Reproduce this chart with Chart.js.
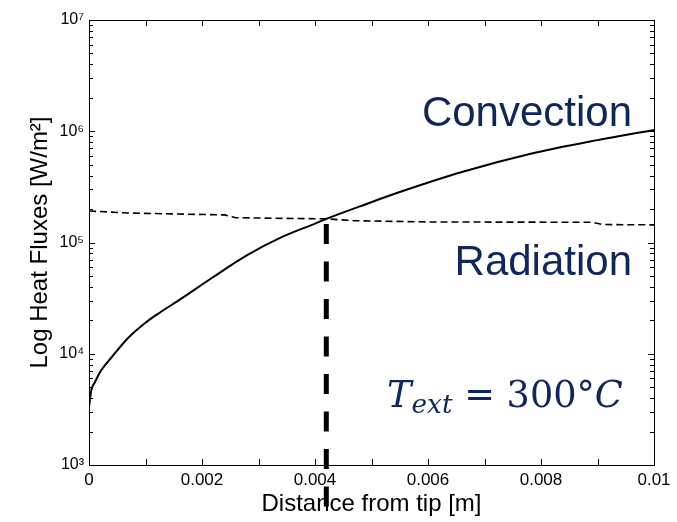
<!DOCTYPE html>
<html><head><meta charset="utf-8">
<script src="https://cdn.jsdelivr.net/npm/chart.js@4/dist/chart.umd.min.js"></script>
<style>html,body{margin:0;padding:0;background:#fff}</style>
</head><body>
<canvas id="c" width="677" height="522" style="display:block;width:677px;height:522px"></canvas>
<script>
// ---- data ----
const convectionX    = [0, 0.00004, 0.0001, 0.0002, 0.0004, 0.0007, 0.001, 0.0012, 0.0016, 0.0022, 0.0028, 0.0034, 0.004, 0.0042, 0.0049, 0.0055, 0.0066, 0.0078, 0.009, 0.01];
const convectionFlux = [3300, 4700, 5500, 6900, 9300, 14000, 19000, 22500, 30500, 49000, 77000, 111000, 148000, 163000, 221000, 284000, 430000, 624000, 832000, 1028000];
const radiationX     = [0, 0.0007, 0.0024, 0.0026, 0.0042, 0.0047, 0.006, 0.0089, 0.0091, 0.01];
const radiationFlux  = [192000, 184000, 177000, 167000, 163000, 157000, 153000, 152000, 145000, 144000];

const xTickValues = [0, 0.002, 0.004, 0.006, 0.008, 0.01];
const xTickLabels = ['0', '0.002', '0.004', '0.006', '0.008', '0.01'];
const xMinorTickValues = [0.001, 0.003, 0.005, 0.007, 0.009];
const yTickValues = [1e3, 1e4, 1e5, 1e6, 1e7];
const yTickLabels = ['10\u00B3', '10\u2074', '10\u2075', '10\u2076', '10\u2077'];

const crossingX = 0.0042;
const crossingFlux = 163000;

const labelConvection = 'Convection';
const labelRadiation = 'Radiation';
const annotationColor = '#0f2858';

const toPoints = (xs, ys) => xs.map((x, i) => ({x: x, y: ys[i]}));

const decorPlugin = {
  id: 'decor',
  afterDraw(chart) {
    const ctx = chart.ctx;
    const xs = chart.scales.x, ys = chart.scales.y;
    const a = chart.chartArea;
    ctx.save();
    // frame
    ctx.strokeStyle = '#000';
    ctx.lineWidth = 1;
    ctx.strokeRect(Math.round(a.left) + 0.5, Math.round(a.top) + 0.5, Math.round(a.right - a.left), Math.round(a.bottom - a.top));
    // x ticks (inward, top and bottom)
    ctx.beginPath();
    xTickValues.concat(xMinorTickValues).forEach(v => {
      const px = Math.round(xs.getPixelForValue(v)) + 0.5;
      ctx.moveTo(px, a.bottom); ctx.lineTo(px, a.bottom - 6);
      ctx.moveTo(px, a.top); ctx.lineTo(px, a.top + 6);
    });
    // y ticks: majors and minors, left and right
    yTickValues.forEach((d, i) => {
      const py = Math.round(ys.getPixelForValue(d)) + 0.5;
      ctx.moveTo(a.left, py); ctx.lineTo(a.left + 6, py);
      ctx.moveTo(a.right, py); ctx.lineTo(a.right - 6, py);
      if (i < yTickValues.length - 1) {
        for (let k = 2; k <= 9; k++) {
          const my = Math.round(ys.getPixelForValue(d * k)) + 0.5;
          ctx.moveTo(a.left, my); ctx.lineTo(a.left + 4, my);
          ctx.moveTo(a.right, my); ctx.lineTo(a.right - 4, my);
        }
      }
    });
    ctx.stroke();

    // thick dashed marker at the crossing point
    const cx = xs.getPixelForValue(crossingX);
    const cy = ys.getPixelForValue(crossingFlux);
    ctx.beginPath();
    ctx.lineWidth = 5;
    ctx.setLineDash([20, 17.5]);
    ctx.moveTo(cx, cy + 5);
    ctx.lineTo(cx, chart.height);
    ctx.stroke();
    ctx.setLineDash([]);

    // text annotations
    ctx.fillStyle = annotationColor;
    ctx.textAlign = 'right';
    ctx.textBaseline = 'alphabetic';
    ctx.font = '42px "Liberation Sans", Arial, sans-serif';
    ctx.fillText(labelConvection, 632, 126);
    ctx.fillText(labelRadiation, 632, 275);

    // T_ext = 300°C (math style)
    const parts = [
      {t: 'T', st: 'italic', k: 1, dy: 0},
      {t: 'ext', st: 'italic', k: 0.72, dy: 0.16},
      {t: ' = 300\u00B0', st: 'normal', k: 1, dy: 0},
      {t: 'C', st: 'italic', k: 1, dy: 0}
    ];
    const fam = '"DejaVu Serif", "Liberation Serif", serif';
    const measure = s => parts.reduce((w, p) => { ctx.font = `${p.st} ${s * p.k}px ${fam}`; return w + ctx.measureText(p.t).width; }, 0);
    const targetW = 236;
    const size = 40 * targetW / measure(40);
    ctx.textAlign = 'left';
    let x = 387;
    const base = 407;
    parts.forEach(p => {
      ctx.font = `${p.st} ${size * p.k}px ${fam}`;
      ctx.fillText(p.t, x, base + p.dy * size);
      x += ctx.measureText(p.t).width;
    });
    ctx.restore();
  }
};

new Chart(document.getElementById('c'), {
  type: 'line',
  data: {
    datasets: [
      {
        label: labelConvection,
        data: toPoints(convectionX, convectionFlux),
        borderColor: '#000', borderWidth: 2, pointRadius: 0,
        cubicInterpolationMode: 'monotone', fill: false
      },
      {
        label: labelRadiation,
        data: toPoints(radiationX, radiationFlux),
        borderColor: '#000', borderWidth: 1.6, borderDash: [7, 4], pointRadius: 0,
        tension: 0, fill: false
      }
    ]
  },
  options: {
    responsive: false,
    animation: false,
    devicePixelRatio: 1,
    layout: {padding: {left: 0, right: 23, top: 20, bottom: 0}},
    plugins: {legend: {display: false}, tooltip: {enabled: false}},
    scales: {
      x: {
        type: 'linear', min: 0, max: 0.01,
        afterBuildTicks: s => { s.ticks = xTickValues.map(v => ({value: v})); },
        afterFit: s => { s.height = 57; },
        grid: {display: false, drawTicks: false},
        border: {display: false},
        ticks: {
          callback: (v, i) => xTickLabels[i],
          font: {family: '"Liberation Sans", Arial, sans-serif', size: 17},
          color: '#000', padding: 5, maxRotation: 0, autoSkip: false
        },
        title: {
          display: true, text: 'Distance from tip [m]', color: '#000',
          font: {family: '"Liberation Sans", Arial, sans-serif', size: 24},
          padding: {top: 0, bottom: 3}
        }
      },
      y: {
        type: 'logarithmic', min: 1e3, max: 1e7,
        afterBuildTicks: s => { s.ticks = yTickValues.map(v => ({value: v})); },
        afterFit: s => { s.width = 89; },
        grid: {display: false, drawTicks: false},
        border: {display: false},
        ticks: {
          callback: (v, i) => yTickLabels[i],
          font: {family: '"Liberation Sans", Arial, sans-serif', size: 16},
          color: '#000', padding: 5, autoSkip: false
        },
        title: {
          display: true, text: 'Log Heat Fluxes [W/m\u00B2]', color: '#000',
          font: {family: '"Liberation Sans", Arial, sans-serif', size: 24},
          padding: {top: 26, bottom: 0}
        }
      }
    }
  },
  plugins: [decorPlugin]
});
</script>
</body></html>
